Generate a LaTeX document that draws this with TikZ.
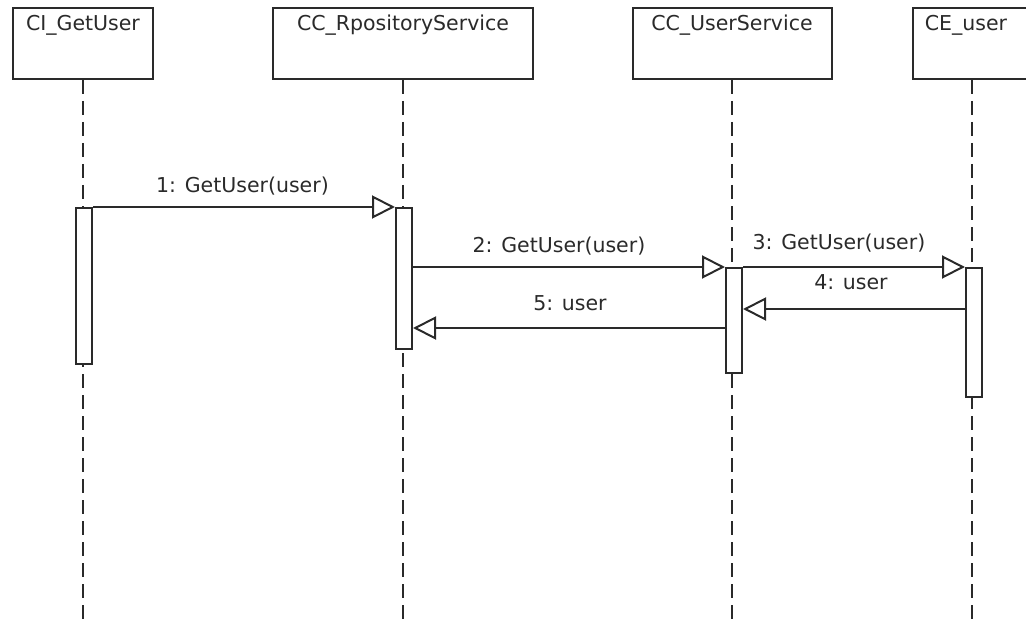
\documentclass[tikz,border=0pt]{standalone}
\usepackage{fontspec}
\setmainfont{DejaVu Sans}
\usetikzlibrary{arrows.meta}
\definecolor{ln}{HTML}{2A2A2A}
\begin{document}
\begin{tikzpicture}[x=1pt, y=-1pt,
  lbl/.style={font=\fontsize{20.5}{24}\selectfont, text=ln, inner sep=0pt, anchor=base},
  head/.style={draw=ln, line width=2pt, fill=white, inner sep=0pt, minimum height=71pt, minimum width=#1},
  act/.style={draw=ln, line width=2pt, fill=white, inner sep=0pt, minimum width=16pt, minimum height=#1},
  life/.style={draw=ln, line width=2pt, dash pattern=on 14pt off 7pt},
  msg/.style={draw=ln, line width=2pt, -{Triangle[open, length=23pt, width=23pt]}}]
\useasboundingbox (0,0) rectangle (1026,623);

% lifeline heads
\node[head=140pt] (h1) at (83,43.5) {};
\node[head=260pt] (h2) at (403,43.5) {};
\node[head=199pt] (h3) at (732,43.5) {};
\node[head=118pt] (h4) at (972,43.5) {};
\node[lbl] (n1) at (83,31) {CI\_GetUser};
\node[lbl] (n2) at (403,31) {CC\_RpositoryService};
\node[lbl] (n3) at (732,31) {CC\_UserService};
\node[lbl] (n4) at (966,31) {CE\_user};

% lifelines
\coordinate (e1) at (83,630);
\coordinate (e2) at (403,630);
\coordinate (e3) at (732,630);
\coordinate (e4) at (972,630);
\draw[life] (h1.south) -- (e1);
\draw[life] (h2.south) -- (e2);
\draw[life] (h3.south) -- (e3);
\draw[life] (h4.south) -- (e4);

% activation bars
\node[act=156pt] (a1) at (84,286) {};
\node[act=141pt] (a2) at (404,278.5) {};
\node[act=105pt] (a3) at (734,320.5) {};
\node[act=129pt] (a4) at (974,332.5) {};

% messages
\coordinate (y4) at (0,309);
\coordinate (y5) at (0,328);
\draw[msg] (a1.north east) -- (a2.north west);
\draw[msg] (a2.east |- a3.north) -- (a3.north west);
\draw[msg] (a3.north east) -- (a4.north west);
\draw[msg] (a4.west |- y4) -- (a3.east |- y4);
\draw[msg] (a3.west |- y5) -- (a2.east |- y5);

% message labels
\node[lbl] (m1) at (242.5,193) {1: GetUser(user)};
\node[lbl] (m2) at (559,252) {2: GetUser(user)};
\node[lbl] (m3) at (839,249) {3: GetUser(user)};
\node[lbl] (m4) at (851,289) {4: user};
\node[lbl] (m5) at (570,310) {5: user};
\end{tikzpicture}
\end{document}
